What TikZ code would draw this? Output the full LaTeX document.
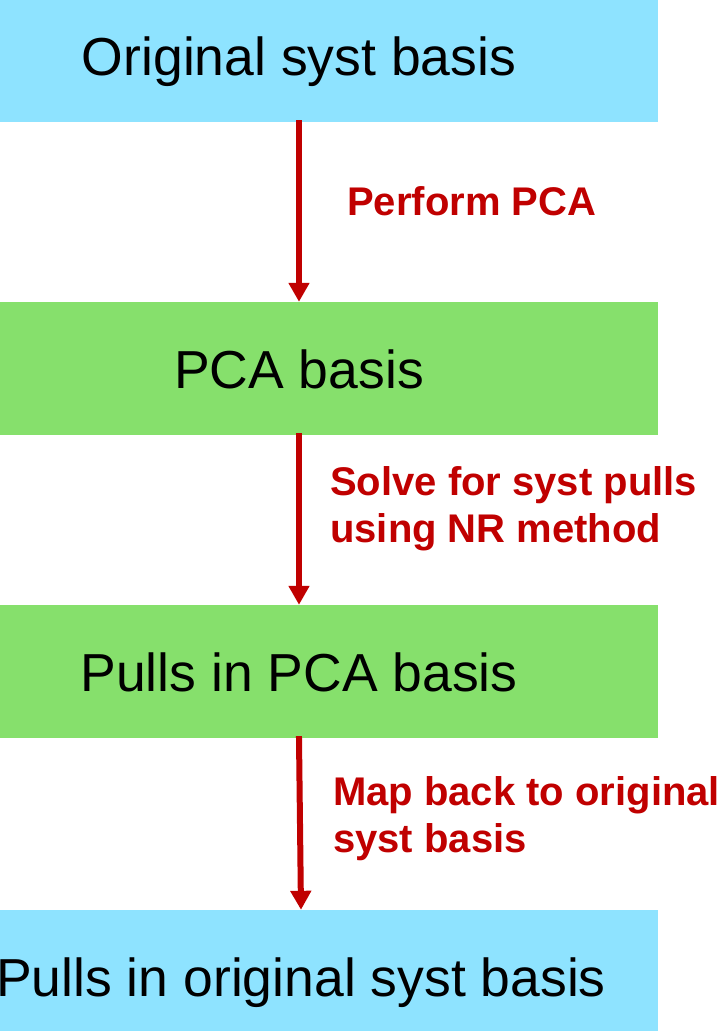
\documentclass[tikz,border=0pt]{standalone}
\usepackage{fontspec}
\setmainfont{Liberation Sans}
\usetikzlibrary{arrows.meta}
\definecolor{boxblue}{RGB}{142,227,255}
\definecolor{boxgreen}{RGB}{134,224,108}
\definecolor{arrred}{RGB}{192,0,0}
\begin{document}
\begin{tikzpicture}[x=1pt,y=-1pt,
  stagebox/.style={rectangle, inner sep=0pt, minimum width=718pt, minimum height=133pt,
    text height=39pt, text depth=0pt, font=\fontsize{53.5}{60}\selectfont, text=black},
  bluebox/.style={stagebox, fill=boxblue},
  greenbox/.style={stagebox, fill=boxgreen},
  flow/.style={draw=arrred, line width=6pt, -{Triangle[width=20pt,length=19pt]}, shorten <=-2pt},
  steplabel/.style={anchor=base west, inner sep=0pt, align=left, text=arrred,
    font=\fontsize{40}{47}\selectfont\bfseries}]
\useasboundingbox (0,0) rectangle (728,1031);
\node[bluebox]  (b1) at (299,55.5)  {Original syst basis};
\node[greenbox] (b2) at (299,368.5) {PCA basis};
\node[greenbox] (b3) at (299,671.5) {Pulls in PCA basis};
\node[bluebox]  (b4) at (299,976.5) {\hspace*{4pt}Pulls in original syst basis};
\draw[flow] (b1.south) -- (b2.north);
\draw[flow] (b2.south) -- (b3.north);
\draw[flow] (b3.south) -- ([xshift=2pt]b4.north);
\node[steplabel] (l1) at (347,215) {Perform PCA};
\node[steplabel] (l2) at (330,542) {Solve for syst pulls\\using NR method};
\node[steplabel] (l3) at (333,852) {Map back to original\\syst basis};
\end{tikzpicture}
\end{document}
